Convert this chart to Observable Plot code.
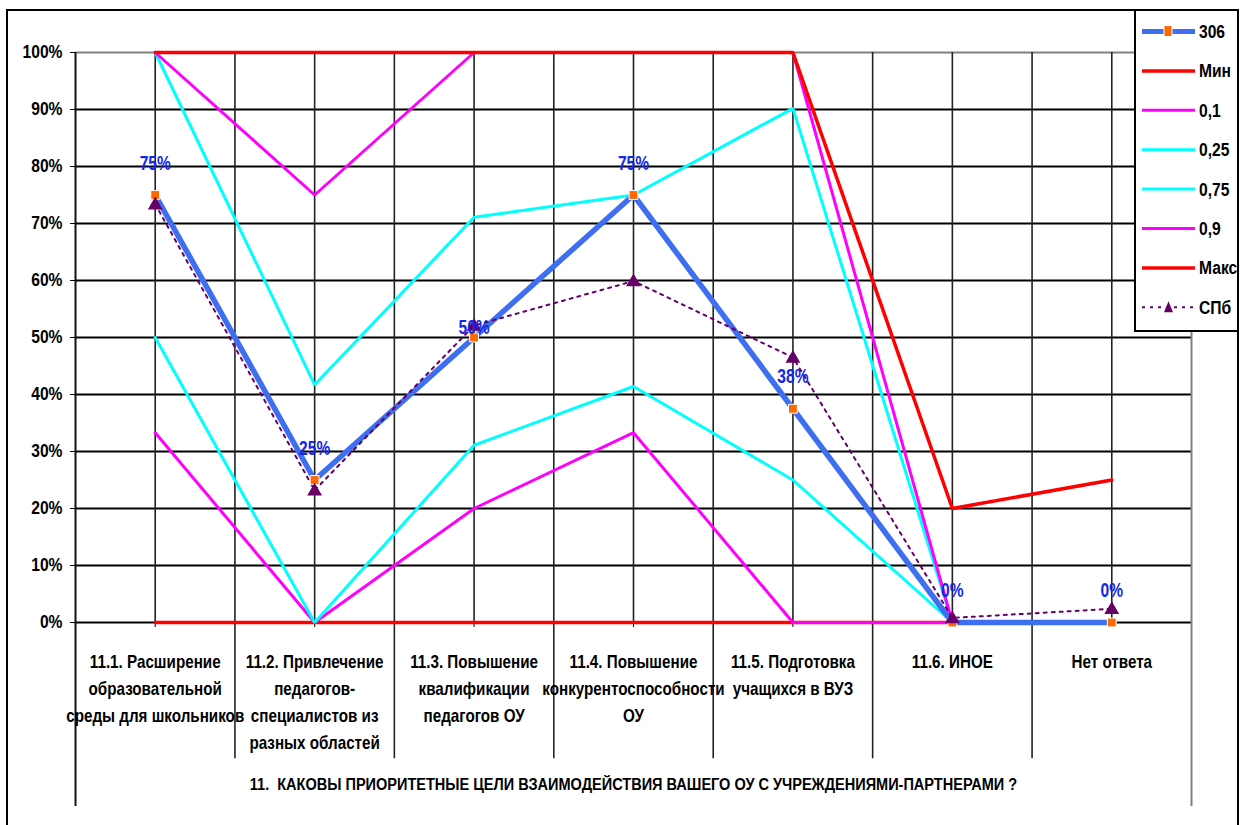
<!DOCTYPE html>
<html>
<head>
<meta charset="utf-8">
<script src="https://cdn.jsdelivr.net/npm/d3@7"></script>
<script src="https://cdn.jsdelivr.net/npm/@observablehq/plot@0.6"></script>
<style>
  html, body { margin: 0; padding: 0; background: #fff; overflow: hidden; }
  #wrap { position: relative; width: 1240px; height: 825px; font-family: 'Liberation Sans', Arial, sans-serif; }
  #chart { position: absolute; left: 0; top: 0; }
  #border { position: absolute; left: 6px; top: 9px; width: 1233px; height: 840px; border: 2px solid #000; box-sizing: border-box; pointer-events: none; }
  #legend { position: absolute; left: 1134px; top: 9px; width: 105px; height: 323px; border: 2px solid #000; box-sizing: border-box; background: #fff; }
</style>
</head>
<body>
<div id="wrap">
  <div id="chart"></div>
  <div id="border"></div>
  <div id="legend"></div>
</div>
<script>
// ---------- data ----------
const categories = [
  "11.1. Расширение\nобразовательной\nсреды для школьников",
  "11.2. Привлечение\nпедагогов-\nспециалистов из\nразных областей",
  "11.3. Повышение\nквалификации\nпедагогов ОУ",
  "11.4. Повышение\nконкурентоспособности\nОУ",
  "11.5. Подготовка\nучащихся в ВУЗ",
  "11.6. ИНОЕ",
  "Нет ответа"
];
const series306 = [75, 25, 50, 75, 37.5, 0, 0];
const seriesMin = [0, 0, 0, 0, 0, 0, 0];
const seriesP10 = [33.3, 0, 20, 33.3, 0, 0, 0];
const seriesP25 = [50, 0, 31.1, 41.4, 25, 0, 0];
const seriesP75 = [100, 41.7, 71.1, 75, 90.2, 0, 0];
const seriesP90 = [100, 75, 100, 100, 100, 0, 0];
const seriesMax = [100, 100, 100, 100, 100, 20, 25];
const seriesSPb = [73.4, 23.2, 52.1, 59.9, 46.5, 0.8, 2.4];
const labels306 = ["75%", "25%", "50%", "75%", "38%", "0%", "0%"];
const yTicks = [0, 10, 20, 30, 40, 50, 60, 70, 80, 90, 100];
const seriesNames = ["306", "Мин", "0,1", "0,25", "0,75", "0,9", "Макс", "СПб"];
const chartTitle = "11.  КАКОВЫ ПРИОРИТЕТНЫЕ ЦЕЛИ ВЗАИМОДЕЙСТВИЯ ВАШЕГО ОУ С УЧРЕЖДЕНИЯМИ-ПАРТНЕРАМИ ?";

// ---------- styles ----------
const FONT = "'Liberation Sans', Arial, sans-serif";
const NARROW = 0.845;      // horizontal condensing, to imitate Arial Narrow
const NARROW_LBL = 0.76;   // data labels are taller and narrower
const BLUE = "#3d6ff0", ORANGE = "#ff6a00", RED = "#ff0000", MAG = "#ff00ff", CYAN = "#00ffff", PURPLE = "#660066", LBL = "#1428e8";

const toRows = arr => arr.map((v, i) => ({x: i + 0.5, y: v, i}));
const n = categories.length;
const halfTicks = d3.range(0, n + 0.01, 0.5);
const innerV = halfTicks.filter(t => t > 0 && t < n);
const boundaries = d3.range(1, n);
const centers = d3.range(n).map(i => i + 0.5);

const lineStyle = (color, w, extra = {}) => ({x: "x", y: "y", stroke: color, strokeWidth: w, strokeLinejoin: "miter", ...extra});

const chart = Plot.plot({
  width: 1240,
  height: 825,
  marginLeft: 75,
  marginRight: 49,
  marginTop: 52,
  marginBottom: 203,
  style: {fontFamily: FONT, background: "transparent", overflow: "visible"},
  x: {type: "linear", domain: [0, n], axis: null},
  y: {domain: [0, 100], axis: null},
  marks: [
    // horizontal gridlines
    Plot.ruleY(yTicks.filter(t => t < 100), {stroke: "#000", strokeWidth: 2}),
    Plot.ruleY([100], {stroke: "#808080", strokeWidth: 2}),
    // vertical gridlines
    Plot.ruleX(innerV, {y1: 0, y2: 100, stroke: "#222", strokeWidth: 1.6}),
    // category separators below plot
    Plot.ruleX(boundaries, {y1: 0, y2: -23.9, stroke: "#222", strokeWidth: 1.6}),
    Plot.ruleX([0], {y1: -32.3, y2: 100, stroke: "#111", strokeWidth: 2}),
    Plot.ruleX([n], {y1: -32.3, y2: 100, stroke: "#808080", strokeWidth: 2}),
    // y axis ticks & labels
    Plot.axisY({ticks: yTicks, tickSize: 5, tickPadding: 8, tickFormat: d => d + "%", fontSize: 18.5, fontWeight: "bold", stroke: "#000", fill: "#000", label: null}),
    // x small ticks
    Plot.axisX({ticks: centers, tickSize: 5, tickFormat: () => "", label: null, stroke: "#000"}),
    // category labels
    Plot.text(categories.map((c, i) => ({x: i + 0.5, t: c})), {x: "x", y: () => 0, text: "t", lineAnchor: "top", dy: 26, lineHeight: 1.5, fontSize: 18, fontWeight: "bold", fill: "#000"}),
    // title
    Plot.text([chartTitle], {frameAnchor: "bottom", dy: 167, fontSize: 17.2, fontWeight: "bold", fill: "#000"}),
    // series lines
    Plot.line(toRows(seriesMin), lineStyle(RED, 3.5)),
    Plot.line(toRows(seriesP10), lineStyle(MAG, 3)),
    Plot.line(toRows(seriesP25), lineStyle(CYAN, 3)),
    Plot.line(toRows(seriesP75), lineStyle(CYAN, 3)),
    Plot.line(toRows(seriesP90), lineStyle(MAG, 3)),
    Plot.line(toRows(seriesMax), lineStyle(RED, 3.5)),
    Plot.line(toRows(series306), lineStyle(BLUE, 5.5)),
    Plot.line(toRows(seriesSPb), lineStyle(PURPLE, 2, {strokeDasharray: "3,5"})),
    // markers
    Plot.dot(toRows(series306), {x: "x", y: "y", symbol: "square", r: 5, fill: ORANGE, stroke: "#fff", strokeWidth: 1}),
    Plot.dot(toRows(seriesSPb), {x: "x", y: "y", symbol: "triangle", r: 5.5, fill: PURPLE, stroke: "none", dy: 1}),
    // data labels
    Plot.text(toRows(series306).filter(d => d.i !== 2), {x: "x", y: "y", text: d => labels306[d.i], dy: -32, fontSize: 20.5, fontWeight: "bold", fill: LBL, className: "dlabel"}),
    Plot.text(toRows(series306).filter(d => d.i === 2), {x: "x", y: "y", text: d => labels306[d.i], dy: -10, fontSize: 20.5, fontWeight: "bold", fill: LBL, className: "dlabel"})
  ]
});
// condense all texts horizontally around their anchor
chart.querySelectorAll("text").forEach(t => {
  const isLbl = !!t.closest(".dlabel");
  const s = isLbl ? NARROW_LBL : NARROW;
  const tr = t.getAttribute("transform") || "";
  const x = +(t.getAttribute("x") || 0);
  if (x) {
    t.setAttribute("transform", `${tr} translate(${x},0) scale(${s},1) translate(${-x},0)`);
  } else {
    t.setAttribute("transform", `${tr} scale(${s},1)`);
  }
});
document.getElementById("chart").appendChild(chart);

// ---------- legend ----------
const legendStyles = [
  {color: BLUE, w: 5, marker: "square"},
  {color: RED, w: 3.5},
  {color: MAG, w: 3},
  {color: CYAN, w: 3},
  {color: CYAN, w: 3},
  {color: MAG, w: 3},
  {color: RED, w: 3.5},
  {color: PURPLE, w: 2, dash: "3,5", marker: "triangle"}
];
const lsvg = d3.select("#legend").append("svg").attr("width", 101).attr("height", 319)
  .style("font-family", FONT);
seriesNames.forEach((name, k) => {
  const st = legendStyles[k];
  const y = 20.5 + k * 39.4;
  const g = lsvg.append("g");
  g.append("line").attr("x1", 6).attr("x2", 59).attr("y1", y).attr("y2", y)
    .attr("stroke", st.color).attr("stroke-width", st.w).attr("stroke-dasharray", st.dash || null);
  if (st.marker === "square") {
    g.append("rect").attr("x", 28).attr("y", y - 6).attr("width", 8).attr("height", 11)
      .attr("fill", ORANGE).attr("stroke", "#fff").attr("stroke-width", 1);
  } else if (st.marker === "triangle") {
    g.append("path").attr("d", `M${32.5},${y - 6} L${37},${y + 5} L${28},${y + 5} Z`).attr("fill", PURPLE);
  }
  g.append("text").attr("transform", `translate(63,${y}) scale(${NARROW},1)`).attr("dy", "0.35em")
    .attr("font-size", 18.5).attr("font-weight", "bold").attr("fill", "#000").text(name);
});
</script>
</body>
</html>
